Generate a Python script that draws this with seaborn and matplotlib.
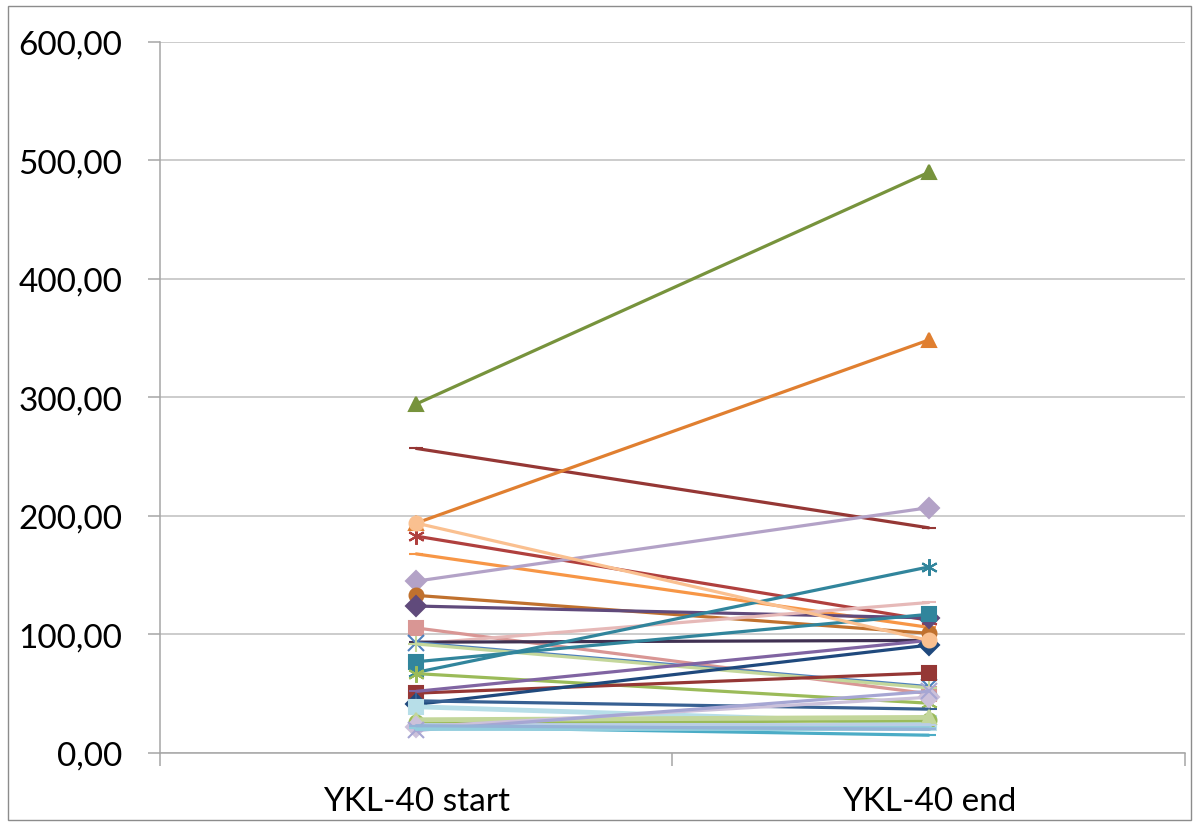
import numpy as np
import pandas as pd
import seaborn as sns
import matplotlib.pyplot as plt
from matplotlib.ticker import FuncFormatter
from matplotlib.patches import Rectangle

# Data (YKL-40, start vs end of treatment)
categories = ['YKL-40 start', 'YKL-40 end']
series = ['S%d' % (i + 1) for i in range(30)]
start_vals = [294.5, 257.0, 194.0, 183.0, 168.0, 145.0, 133.0, 124.0, 105.5, 92.0,
              93.5, 93.0, 92.0, 77.0, 68.0, 67.0, 50.5, 52.0, 41.0, 44.0,
              39.0, 26.0, 28.0, 24.0, 22.0, 19.0, 22.0, 21.0, 23.0, 194.0]
end_vals = [490.0, 190.0, 348.5, 112.0, 106.0, 207.0, 101.0, 114.0, 50.0, 127.0,
            95.0, 56.0, 55.0, 117.0, 157.0, 42.0, 67.5, 95.0, 91.0, 37.0,
            25.0, 28.0, 30.0, 24.0, 47.0, 52.0, 15.0, 21.0, 20.0, 95.0]

# Styles (Excel 2007 style palette / marker cycle)
colors = ['#77933C', '#953735', '#E07F30', '#B0403E', '#F79646', '#B3A2C7', '#C0712E', '#604A7B',
          '#D99694', '#E6B9B8', '#403152', '#4F81BD', '#C4D79B', '#31859C', '#31859C', '#9BBB59',
          '#953735', '#8064A2', '#1F497D', '#376092', '#B7DEE8', '#9BBB59', '#C3D69B', '#B9CDE5',
          '#CCC1DA', '#A6A6D3', '#4BACC6', '#93CDDD', '#95B3D7', '#FAC090']
asterisk = (6, 2, 0)
markers = ['^', '_', '^', asterisk, '_', 'D', 'o', 'D',
           's', '_', '_', 'x', '+', 's', asterisk, asterisk,
           's', '_', 'D', '+', 's', 'o', '^', '_',
           'D', 'x', '_', '_', '_', 'o']
widths = [2.3, 2.3, 2.3, 2.3, 2.3, 2.3, 2.3, 2.3, 2.3, 2.3, 2.3, 2.3, 2.3, 2.3, 2.3, 2.3,
          2.3, 2.3, 2.3, 2.3, 3.5, 3.5, 3.5, 3.5, 2.3, 2.3, 2.3, 3.5, 2.3, 2.3]

sns.set_style('white')
plt.rcParams['font.family'] = ['Lato', 'DejaVu Sans']

fig = plt.figure(figsize=(11.99, 8.28), dpi=100)
ax = fig.add_axes([0.1334, 0.0894, 0.8549, 0.8587])

for i, name in enumerate(series):
    df = pd.DataFrame({'Position': [0, 1], 'Value': [start_vals[i], end_vals[i]]})
    size = 12 if markers[i] in (asterisk, 'x', '+') else 10
    sns.lineplot(data=df, x='Position', y='Value', color=colors[i], marker=markers[i],
                 markersize=size, linewidth=widths[i], markeredgecolor=colors[i],
                 markeredgewidth=1.5, ax=ax, zorder=3 + i * 0.01)

ax.set_xlim(-0.5, 1.5)
ax.set_ylim(0, 600)
ax.set_yticks(np.arange(0, 601, 100))
ax.yaxis.set_major_formatter(FuncFormatter(lambda v, p: f'{v:.2f}'.replace('.', ',')))
ax.set_xticks([0, 1])
ax.set_xticklabels(categories)
ax.set_xticks([-0.5, 0.5, 1.5], minor=True)
ax.set_xlabel('')
ax.set_ylabel('')

ax.grid(axis='y', color='#BEBEBE', linewidth=1.1)
ax.set_axisbelow(True)
for side in ['top', 'right']:
    ax.spines[side].set_visible(False)
for side in ['left', 'bottom']:
    ax.spines[side].set_color('#A6A6A6')
    ax.spines[side].set_linewidth(1.1)

ax.tick_params(axis='y', which='major', length=9, width=1.1, color='#A6A6A6',
               direction='out', left=True, pad=18, labelsize=24, labelcolor='black')
ax.tick_params(axis='x', which='major', length=0, pad=24, labelsize=24, labelcolor='black')
ax.tick_params(axis='x', which='minor', length=9, width=1.1, color='#A6A6A6',
               direction='out', bottom=True)

fig.patches.append(Rectangle((0.007, 0.009), 0.986, 0.982, transform=fig.transFigure,
                             fill=False, edgecolor='#8C8C8C', linewidth=1.0))

fig.savefig('out.png', dpi=100)
